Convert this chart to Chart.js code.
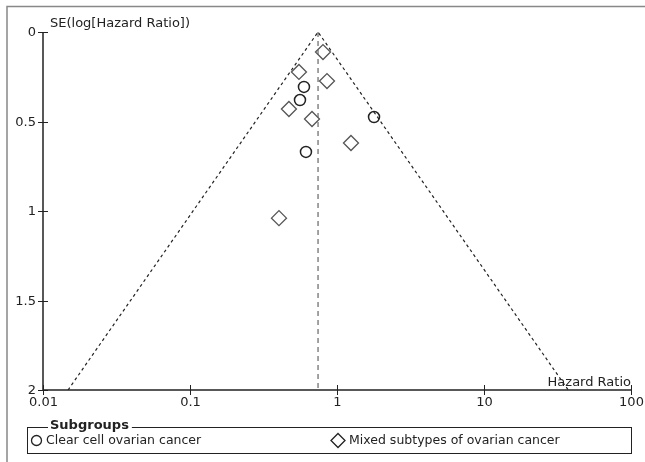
<!DOCTYPE html>
<html>
<head>
<meta charset="utf-8">
<script src="https://cdn.jsdelivr.net/npm/chart.js@4"></script>
<style>
  html, body { margin: 0; padding: 0; background: #fff; }
  #wrap { width: 645px; height: 462px; position: relative; }
</style>
</head>
<body>
<div id="wrap"><canvas id="funnel"></canvas></div>
<script>
// Funnel plot data
const clearCellHR = [0.596, 0.560, 1.786, 0.615];
const clearCellSE = [0.307, 0.380, 0.475, 0.670];
const mixedHR = [0.803, 0.551, 0.855, 0.471, 0.676, 1.245, 0.403];
const mixedSE = [0.112, 0.223, 0.274, 0.430, 0.486, 0.620, 1.040];
const pooledHR = 0.743;
const funnelHR = [0.0148, 0.743, 37.4];   // left foot, apex, right foot
const funnelSE = [2, 0, 2];
const xTicks = [0.01, 0.1, 1, 10, 100];
const xTickLabels = ['0.01', '0.1', '1', '10', '100'];
const yTicks = [0, 0.5, 1, 1.5, 2];
const yTickLabels = ['0', '0.5', '1', '1.5', '2'];
const seriesLabels = ['Clear cell ovarian cancer', 'Mixed subtypes of ovarian cancer'];

const FONT = '"DejaVu Sans", "Open Sans", sans-serif';
const INK = '#222';

const toPoints = (xs, ys) => xs.map((x, i) => ({ x: x, y: ys[i] }));

// Axes, ticks, titles, frame and legend box
const funnelDecor = {
    id: 'funnelDecor',
    afterDraw(chart) {
        const ctx = chart.ctx;
        const xs = chart.scales.x, ys = chart.scales.y;
        const area = chart.chartArea;
        ctx.save();

        // outer frame (top + left only visible)
        ctx.strokeStyle = '#888';
        ctx.lineWidth = 1.5;
        ctx.beginPath();
        ctx.moveTo(7, 462); ctx.lineTo(7, 6.5); ctx.lineTo(645, 6.5);
        ctx.stroke();

        // axis lines
        ctx.strokeStyle = INK;
        ctx.lineWidth = 1.5;
        ctx.beginPath();
        ctx.moveTo(area.left, ys.getPixelForValue(0));
        ctx.lineTo(area.left, ys.getPixelForValue(2));
        ctx.lineTo(xs.getPixelForValue(100), ys.getPixelForValue(2));
        ctx.stroke();

        ctx.lineWidth = 1;
        ctx.fillStyle = INK;
        ctx.font = '13px ' + FONT;

        // y ticks (cross the axis)
        ctx.textAlign = 'right';
        ctx.textBaseline = 'middle';
        yTicks.forEach((v, i) => {
            const py = Math.round(ys.getPixelForValue(v)) + 0.5;
            ctx.beginPath();
            ctx.moveTo(area.left - 5, py); ctx.lineTo(area.left + 5, py);
            ctx.stroke();
            ctx.fillText(yTickLabels[i], area.left - 7, py);
        });

        // x ticks
        ctx.textAlign = 'center';
        ctx.textBaseline = 'top';
        const by = ys.getPixelForValue(2);
        xTicks.forEach((v, i) => {
            const px = Math.round(xs.getPixelForValue(v)) + 0.5;
            ctx.beginPath();
            ctx.moveTo(px, by - 5); ctx.lineTo(px, by + 5);
            ctx.stroke();
            ctx.fillText(xTickLabels[i], px, by + 6);
        });

        // axis titles
        ctx.textAlign = 'left';
        ctx.textBaseline = 'alphabetic';
        ctx.fillText('SE(log[Hazard Ratio])', area.left + 7, 27);
        ctx.textAlign = 'right';
        ctx.fillText('Hazard Ratio', xs.getPixelForValue(100), by - 4);

        // legend box
        const lx = 27.5, ly = 427.5, lw = 604, lh = 26;
        ctx.strokeStyle = INK;
        ctx.strokeRect(lx, ly, lw, lh);
        ctx.font = 'bold 13px ' + FONT;
        ctx.textAlign = 'left';
        ctx.textBaseline = 'middle';
        const tw = ctx.measureText('Subgroups').width;
        ctx.fillStyle = '#fff';
        ctx.fillRect(48, ly - 2, tw + 5, 4);
        ctx.fillStyle = INK;
        ctx.fillText('Subgroups', 50, ly - 2);

        ctx.font = '12.5px ' + FONT;
        const iy = 440.5;
        ctx.lineWidth = 1.3;
        ctx.beginPath();
        ctx.arc(36.5, iy, 5, 0, Math.PI * 2);
        ctx.stroke();
        ctx.fillText(seriesLabels[0], 46, iy);

        ctx.beginPath();
        ctx.moveTo(338, iy - 7); ctx.lineTo(345, iy);
        ctx.lineTo(338, iy + 7); ctx.lineTo(331, iy);
        ctx.closePath();
        ctx.stroke();
        ctx.fillText(seriesLabels[1], 349, iy);

        ctx.restore();
    }
};

const ctx = document.getElementById('funnel').getContext('2d');
new Chart(ctx, {
    type: 'scatter',
    data: {
        datasets: [
            {
                label: 'funnel',
                data: toPoints(funnelHR, funnelSE),
                showLine: true,
                borderColor: '#222',
                borderWidth: 1.2,
                borderDash: [3, 3],
                pointRadius: 0
            },
            {
                label: 'pooled',
                data: toPoints([pooledHR, pooledHR], [0, 2]),
                showLine: true,
                borderColor: '#666',
                borderWidth: 1.2,
                borderDash: [5, 4],
                pointRadius: 0
            },
            {
                label: seriesLabels[0],
                data: toPoints(clearCellHR, clearCellSE),
                pointStyle: 'circle',
                pointRadius: 5.5,
                borderColor: '#222',
                borderWidth: 1.5,
                backgroundColor: 'rgba(0,0,0,0)'
            },
            {
                label: seriesLabels[1],
                data: toPoints(mixedHR, mixedSE),
                pointStyle: 'rectRot',
                pointRadius: 7.5,
                borderColor: '#555',
                borderWidth: 1.3,
                backgroundColor: 'rgba(0,0,0,0)'
            }
        ]
    },
    options: {
        responsive: true,
        maintainAspectRatio: false,
        animation: false,
        layout: { padding: { top: 32, right: 14, left: 0, bottom: 0 } },
        plugins: { legend: { display: false }, tooltip: { enabled: false } },
        scales: {
            x: {
                type: 'logarithmic',
                min: 0.01,
                max: 100,
                grid: { display: false },
                border: { display: false },
                ticks: { display: false },
                afterFit: s => { s.height = 72; }
            },
            y: {
                type: 'linear',
                reverse: true,
                min: 0,
                max: 2,
                grid: { display: false },
                border: { display: false },
                ticks: { display: false },
                afterFit: s => { s.width = 43; }
            }
        }
    },
    plugins: [funnelDecor]
});
</script>
</body>
</html>
